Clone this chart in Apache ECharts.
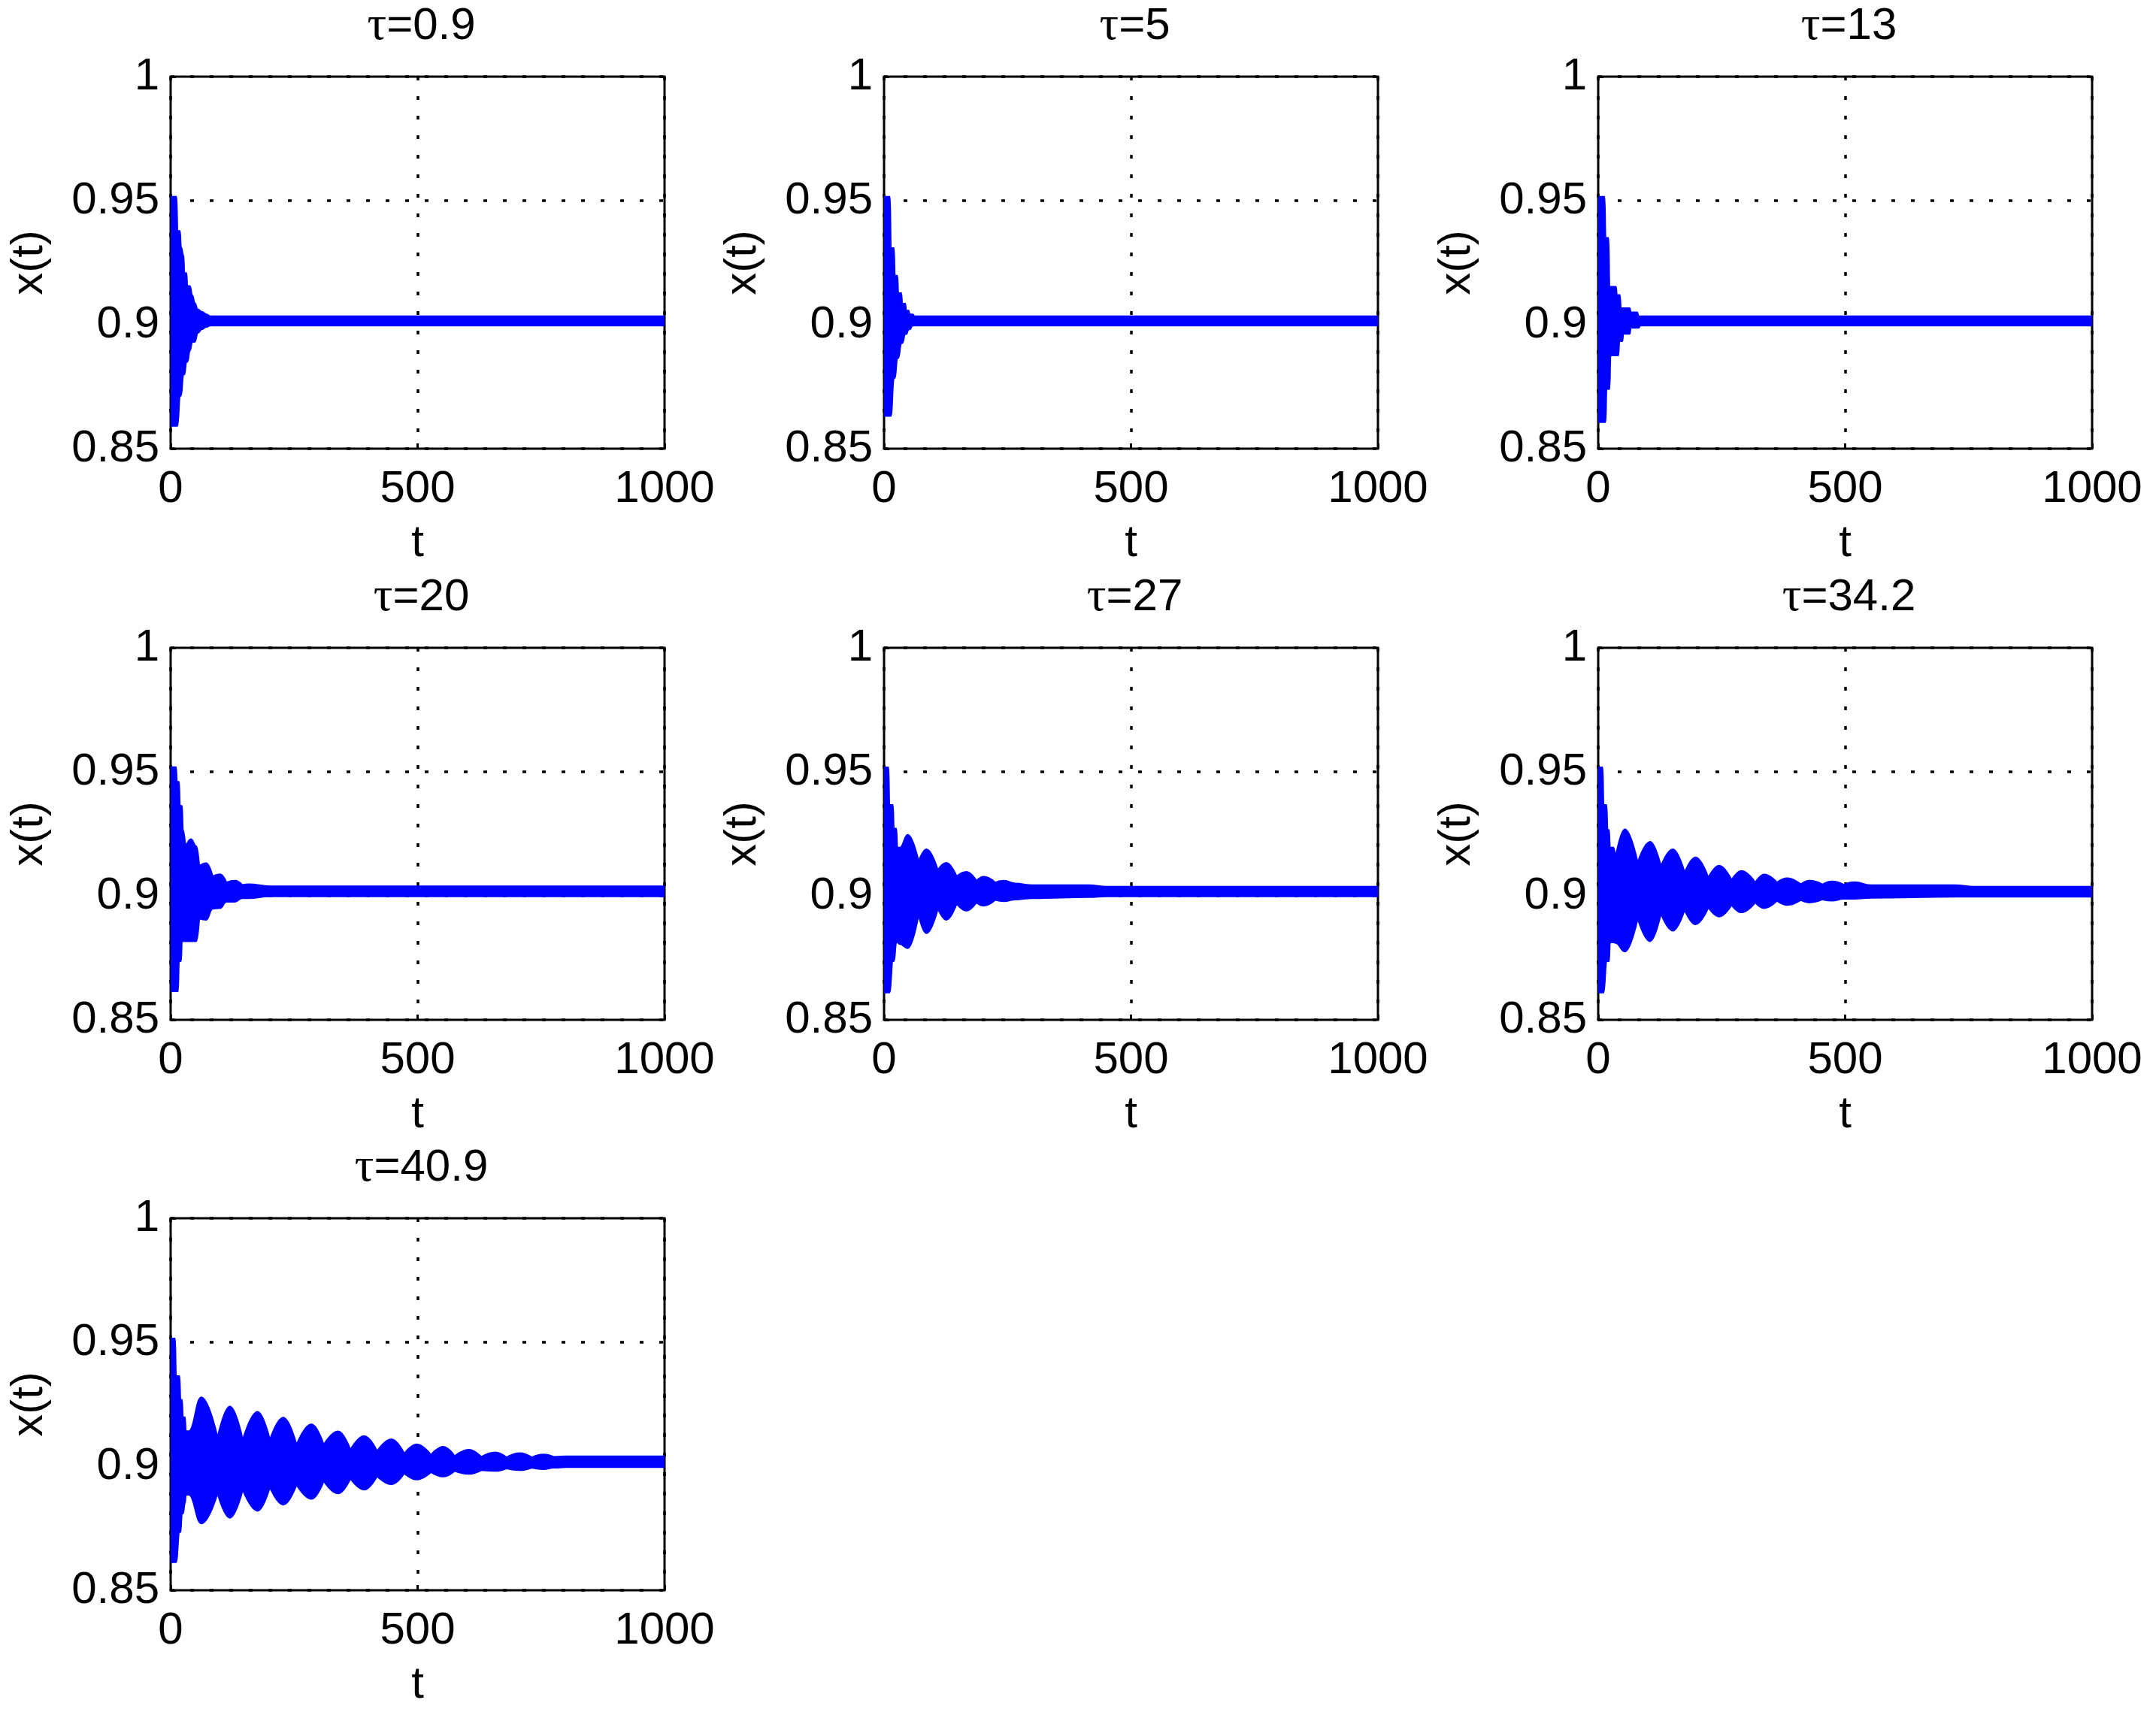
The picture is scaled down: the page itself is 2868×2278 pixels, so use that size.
<!DOCTYPE html>
<html>
<head>
<meta charset="utf-8">
<script src="https://cdn.jsdelivr.net/npm/echarts@6/dist/echarts.min.js"></script>
<style>
  html, body { margin: 0; padding: 0; background: #fff; }
  #chart { width: 2868px; height: 2278px; }
</style>
</head>
<body>
<div id="chart"></div>
<script>
// 每个子图: 时间点 + 上包络 + 下包络
const tau09T  = [0, 12, 14, 19, 21, 26, 28, 32, 34, 39, 44, 49, 55, 63, 73, 80, 1000];
const tau09Hi = [0.9516, 0.9516, 0.9378, 0.9378, 0.9314, 0.928, 0.9208, 0.9208, 0.9156, 0.9156, 0.9118, 0.9087, 0.9062, 0.9052, 0.9042, 0.9034, 0.9034];
const tau09Lo = [0.8592, 0.8592, 0.8592, 0.8713, 0.8713, 0.8799, 0.8799, 0.885, 0.885, 0.8895, 0.893, 0.893, 0.8966, 0.8981, 0.8991, 0.8996, 0.8996];

const tau5T  = [0, 12, 14, 20, 22, 27, 29, 35, 37, 43, 45, 50, 52, 58, 62, 1000];
const tau5Hi = [0.9516, 0.9516, 0.9309, 0.9309, 0.9198, 0.9198, 0.9127, 0.9127, 0.9085, 0.9085, 0.9057, 0.9057, 0.9042, 0.9042, 0.9034, 0.9034];
const tau5Lo = [0.8632, 0.8632, 0.8632, 0.8784, 0.8784, 0.8865, 0.8865, 0.8925, 0.8925, 0.8961, 0.8961, 0.8981, 0.8981, 0.8996, 0.8996, 0.8996];

const tau13T  = [0, 13, 15, 17, 21, 23, 25, 36, 38, 41, 43, 44, 46, 49, 51, 64, 66, 79, 82, 85, 1000];
const tau13Hi = [0.9516, 0.9516, 0.935, 0.935, 0.935, 0.9153, 0.9153, 0.9153, 0.912, 0.912, 0.912, 0.912, 0.9067, 0.9067, 0.9067, 0.9067, 0.905, 0.905, 0.9034, 0.9034, 0.9034];
const tau13Lo = [0.8607, 0.8607, 0.8607, 0.874, 0.874, 0.874, 0.8876, 0.8876, 0.8876, 0.8876, 0.8933, 0.8933, 0.8933, 0.8933, 0.8963, 0.8963, 0.8987, 0.8987, 0.8987, 0.8996, 0.8996];

const tau20T  = [0, 11, 13, 15, 17, 19, 21, 23, 25, 30, 41, 52, 58, 72, 85, 100, 113, 130, 145, 158, 200, 1000];
const tau20Hi = [0.9519, 0.9519, 0.946, 0.946, 0.946, 0.9363, 0.9363, 0.9363, 0.9267, 0.9196, 0.9229, 0.92, 0.912, 0.9132, 0.9079, 0.9087, 0.9054, 0.9061, 0.9044, 0.9047, 0.9039, 0.9039];
const tau20Lo = [0.8615, 0.8615, 0.8615, 0.8615, 0.8736, 0.8736, 0.8736, 0.8817, 0.8817, 0.8817, 0.8817, 0.8817, 0.8908, 0.8903, 0.8948, 0.895, 0.8976, 0.8976, 0.899, 0.899, 0.8998, 0.8998];

const tau27T  = [0, 9, 11, 18, 20, 25, 27, 32, 48, 70, 86, 109, 126, 147, 167, 187, 202, 225, 243, 266, 300, 415, 450, 1000];
const tau27Hi = [0.9518, 0.9518, 0.9367, 0.9367, 0.9271, 0.9271, 0.9195, 0.9195, 0.9246, 0.914, 0.9188, 0.9104, 0.9133, 0.9079, 0.9097, 0.9061, 0.9077, 0.9054, 0.9061, 0.905, 0.9043, 0.9043, 0.9037, 0.9037];
const tau27Lo = [0.861, 0.861, 0.861, 0.8736, 0.8736, 0.8812, 0.8812, 0.8805, 0.8789, 0.8923, 0.8849, 0.8948, 0.8903, 0.8968, 0.894, 0.8973, 0.896, 0.8983, 0.8978, 0.8985, 0.899, 0.8995, 0.8998, 0.8998];

const tau342T  = [0, 9, 11, 17, 19, 22, 24, 31, 35, 54, 80, 105, 127, 151, 175, 197, 223, 245, 270, 290, 318, 336, 362, 383, 410, 428, 454, 474, 497, 519, 553, 723, 760, 1000];
const tau342Hi = [0.9518, 0.9518, 0.9367, 0.9367, 0.9266, 0.9266, 0.9195, 0.9195, 0.9155, 0.9268, 0.9135, 0.9218, 0.912, 0.9188, 0.9094, 0.9155, 0.9074, 0.9122, 0.9064, 0.9101, 0.9054, 0.9086, 0.9054, 0.9071, 0.9047, 0.9061, 0.9046, 0.9058, 0.9045, 0.9055, 0.9043, 0.9043, 0.9037, 0.9037];
const tau342Lo = [0.861, 0.861, 0.861, 0.8736, 0.8736, 0.8736, 0.8812, 0.8812, 0.881, 0.8775, 0.8908, 0.8817, 0.8928, 0.8859, 0.8943, 0.8885, 0.8953, 0.8916, 0.8963, 0.8933, 0.8973, 0.895, 0.898, 0.8963, 0.8983, 0.8973, 0.8985, 0.898, 0.8988, 0.8988, 0.8992, 0.8996, 0.8996, 0.8996];

const tau409T  = [0, 9, 11, 18, 20, 23, 25, 29, 31, 37, 62, 95, 120, 146, 176, 201, 228, 255, 285, 310, 339, 364, 392, 418, 447, 473, 498, 527, 552, 575, 604, 629, 657, 680, 707, 731, 755, 776, 800, 1000];
const tau409Hi = [0.9515, 0.9515, 0.9364, 0.9364, 0.9268, 0.9268, 0.9198, 0.9198, 0.9142, 0.9142, 0.9278, 0.9117, 0.9241, 0.9107, 0.922, 0.9107, 0.9196, 0.9087, 0.917, 0.9087, 0.9141, 0.9067, 0.9122, 0.9061, 0.9109, 0.9051, 0.9089, 0.9046, 0.9079, 0.9041, 0.9067, 0.9038, 0.9056, 0.9036, 0.9053, 0.9036, 0.9048, 0.9038, 0.904, 0.904];
const tau409Lo = [0.8613, 0.8613, 0.8613, 0.8734, 0.8734, 0.8809, 0.8809, 0.885, 0.8885, 0.8885, 0.8769, 0.889, 0.8792, 0.8905, 0.882, 0.8915, 0.8845, 0.8925, 0.8868, 0.894, 0.889, 0.895, 0.8905, 0.896, 0.8927, 0.8971, 0.8946, 0.8976, 0.8958, 0.8981, 0.8969, 0.8984, 0.8981, 0.8991, 0.8984, 0.8994, 0.8988, 0.8994, 0.8996, 0.8996];

const tauLabels = ['0.9', '5', '13', '20', '27', '34.2', '40.9'];
const xTicks = [0, 500, 1000];
const yTicks = [0.85, 0.9, 0.95, 1];

const panels = [
  { t: tau09T, hi: tau09Hi, lo: tau09Lo },
  { t: tau5T, hi: tau5Hi, lo: tau5Lo },
  { t: tau13T, hi: tau13Hi, lo: tau13Lo },
  { t: tau20T, hi: tau20Hi, lo: tau20Lo },
  { t: tau27T, hi: tau27Hi, lo: tau27Lo },
  { t: tau342T, hi: tau342Hi, lo: tau342Lo },
  { t: tau409T, hi: tau409Hi, lo: tau409Lo }
];

// 布局 (像素)
const colLeft = [227, 1176, 2126];
const rowTop = [102, 862, 1621];
const plotW = 657;
const plotH = 495;
const FONT = "'Liberation Sans', Arial, sans-serif";
const FS = 60;
const BLUE = '#0000ff';
const SMOOTH = 0.45; // 水平切线的贝塞尔平滑
const dotted = { color: '#000', width: 3.5, type: [5, 21] };

// 平滑路径: 峰处水平切线, 颈部(向中心凹进的点)为尖角
// inward = +1 表示像素 y 增大是向带中心 (上包络), -1 为下包络
const curveTo = (pts, inward) => {
  const isNeck = (k) => k > 0 && k < pts.length - 1 &&
    (pts[k][1] - pts[k - 1][1]) * inward > 0.5 && (pts[k][1] - pts[k + 1][1]) * inward > 0.5;
  let d = '';
  for (let k = 1; k < pts.length; k++) {
    const [x0, y0] = pts[k - 1];
    const [x1, y1] = pts[k];
    const dx = (x1 - x0) * SMOOTH;
    const c0 = isNeck(k - 1) ? [x0, y0] : [x0 + dx, y0];
    const c1 = isNeck(k) ? [x1, y1] : [x1 - dx, y1];
    d += ` C ${c0[0]} ${c0[1]} ${c1[0]} ${c1[1]} ${x1} ${y1}`;
  }
  return d;
};

// 上下包络之间的带状区域, 只在第一个数据项里画整条
const renderBand = (params, api) => {
  if (params.dataIndexInside !== 0) return null;
  const n = params.dataInsideLength;
  const upper = [], lower = [];
  for (let k = 0; k < n; k++) {
    const t = api.value(0, k);
    upper.push(api.coord([t, api.value(2, k)]));
    lower.push(api.coord([t, api.value(1, k)]));
  }
  lower.reverse();
  const d = `M ${upper[0][0]} ${upper[0][1]}` + curveTo(upper, 1) +
    ` L ${lower[0][0]} ${lower[0][1]}` + curveTo(lower, -1) + ' Z';
  return {
    type: 'path',
    shape: { pathData: d },
    style: { fill: BLUE, stroke: BLUE, lineWidth: 2, lineJoin: 'round' }
  };
};

const grids = [], xAxes = [], yAxes = [], titles = [], series = [];

panels.forEach((p, i) => {
  const left = colLeft[i % 3];
  const top = rowTop[Math.floor(i / 3)];
  grids.push({ left, top, width: plotW, height: plotH, show: true, borderColor: '#000', borderWidth: 3, backgroundColor: 'transparent' });
  titles.push({
    text: '{g|τ}=' + tauLabels[i],
    left: left + plotW / 2,
    top: top - 104,
    textAlign: 'center',
    textStyle: { fontFamily: FONT, fontSize: FS, fontWeight: 'normal', color: '#000',
      rich: { g: { fontFamily: "'Liberation Serif', serif", fontSize: 64, color: '#000' } } }
  });
  xAxes.push({
    gridIndex: i, type: 'value', min: xTicks[0], max: xTicks[xTicks.length - 1], interval: xTicks[1] - xTicks[0],
    name: 't', nameLocation: 'middle', nameGap: 96,
    nameTextStyle: { fontFamily: FONT, fontSize: FS, color: '#000' },
    axisLine: { show: false },
    axisTick: { show: true, inside: true, length: 7, lineStyle: { color: '#000', width: 3 } },
    axisLabel: { fontFamily: FONT, fontSize: FS, color: '#000', margin: 24, formatter: (v) => String(v) },
    splitLine: { show: true, lineStyle: dotted }
  });
  yAxes.push({
    gridIndex: i, type: 'value', min: yTicks[0], max: yTicks[yTicks.length - 1], interval: 0.05,
    name: 'x(t)', nameLocation: 'middle', nameGap: 158, nameRotate: 90,
    nameTextStyle: { fontFamily: FONT, fontSize: FS, color: '#000' },
    axisLine: { show: false },
    axisTick: { show: true, inside: true, length: 7, lineStyle: { color: '#000', width: 3 } },
    axisLabel: { fontFamily: FONT, fontSize: FS, color: '#000', margin: 15,
      formatter: (v) => String(+v.toFixed(2)) },
    splitLine: { show: true, lineStyle: dotted }
  });
  series.push({
    type: 'custom',
    xAxisIndex: i,
    yAxisIndex: i,
    renderItem: renderBand,
    encode: { x: 0, y: [1, 2] },
    data: p.t.map((x, j) => [x, p.lo[j], p.hi[j]]),
    clip: true,
    silent: true,
    animation: false
  });
});

const chart = echarts.init(document.getElementById('chart'), null, { renderer: 'canvas' });
chart.setOption({
  backgroundColor: '#fff',
  animation: false,
  title: titles,
  grid: grids,
  xAxis: xAxes,
  yAxis: yAxes,
  series
});
</script>
</body>
</html>
